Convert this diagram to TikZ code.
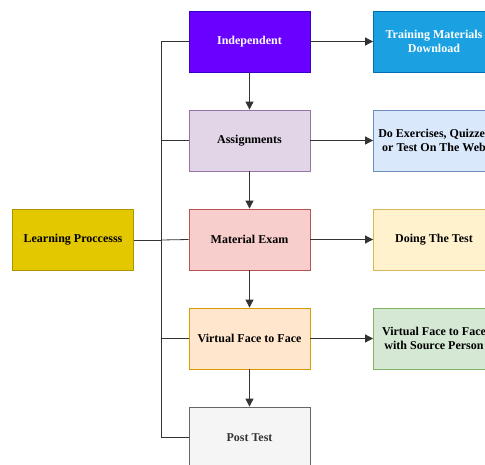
\documentclass[tikz,border=0pt]{standalone}
\usepackage{fontspec}
\setmainfont{Liberation Serif}
\usetikzlibrary{arrows.meta, positioning}

\definecolor{indepfill}{HTML}{6A00FF}
\definecolor{indepline}{HTML}{3700CC}
\definecolor{trainfill}{HTML}{1BA1E2}
\definecolor{trainline}{HTML}{006EAF}
\definecolor{assignfill}{HTML}{E1D5E7}
\definecolor{assignline}{HTML}{9673A6}
\definecolor{webfill}{HTML}{DAE8FC}
\definecolor{webline}{HTML}{6C8EBF}
\definecolor{examfill}{HTML}{F8CECC}
\definecolor{examline}{HTML}{B85450}
\definecolor{testfill}{HTML}{FFF2CC}
\definecolor{testline}{HTML}{D6B656}
\definecolor{vfacefill}{HTML}{FFE6CC}
\definecolor{vfaceline}{HTML}{D79B00}
\definecolor{srcfill}{HTML}{D5E8D4}
\definecolor{srcline}{HTML}{82B366}
\definecolor{postfill}{HTML}{F5F5F5}
\definecolor{postline}{HTML}{666666}
\definecolor{posttext}{HTML}{333333}
\definecolor{learnfill}{HTML}{E3C800}
\definecolor{learnline}{HTML}{B09500}

\begin{document}
\begin{tikzpicture}[x=1pt,y=-1pt,>={Triangle[length=8pt,width=8pt]},
    box/.style={rectangle,minimum width=121pt,minimum height=61pt,
        inner sep=2pt,align=center,font=\bfseries\fontsize{12}{14}\selectfont,line width=0.8pt}]
    \useasboundingbox (0,0) rectangle (485,464);
    \node[box,fill=learnfill,draw=learnline] (Learn) at (73,240) {Learning Proccesss};
    \node[box,fill=indepfill,draw=indepline,text=white] (Indep) at (249.5,41.5) {Independent};
    \node[box,fill=assignfill,draw=assignline] (Assign) at (249.5,140.5) {Assignments};
    \node[box,fill=examfill,draw=examline] (Exam) at (249.5,239.5) {Material Exam};
    \node[box,fill=vfacefill,draw=vfaceline] (VFace) at (249.5,338.5) {Virtual Face to Face};
    \node[box,fill=postfill,draw=postline,text=posttext] (Post) at (249.5,437.5) {Post Test};
    \node[box,fill=trainfill,draw=trainline,text=white] (Train) at (434,41.5) {Training Materials\\Download};
    \node[box,fill=webfill,draw=webline] (Web) at (434,140.5) {Do Exercises, Quizzes\\or Test On The Web};
    \node[box,fill=testfill,draw=testline] (DoTest) at (434,239.5) {Doing The Test};
    \node[box,fill=srcfill,draw=srcline] (Source) at (434,338.5) {Virtual Face to Face\\with Source Person};
    \coordinate (Spine) at (161,240);

    \tikzset{link/.style={draw=black!80,line width=0.8pt}}
    \tikzset{flow/.style={->,link}}
    % tree on the left
    \draw[link] (Learn.east) -- (Spine);
    \draw[link] (Spine) |- (Indep.west);
    \draw[link] (Spine) |- (Assign.west);
    \draw[link] (Spine) -- (Exam.west);
    \draw[link] (Spine) |- (VFace.west);
    \draw[link] (Spine) |- (Post.west);
    % steps down the middle
    \path (Indep) edge [flow] (Assign);
    \path (Assign) edge [flow] (Exam);
    \path (Exam) edge [flow] (VFace);
    \path (VFace) edge [flow] (Post);
    % results on the right
    \path (Indep) edge [flow] (Train);
    \path (Assign) edge [flow] (Web);
    \path (Exam) edge [flow] (DoTest);
    \path (VFace) edge [flow] (Source);
\end{tikzpicture}
\end{document}
